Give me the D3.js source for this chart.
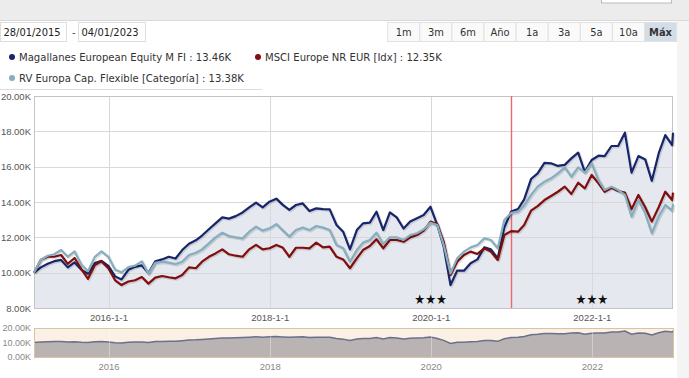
<!DOCTYPE html>
<html>
<head>
<meta charset="utf-8">
<script src="https://cdn.jsdelivr.net/npm/d3@7"></script>
<style>
  body { margin: 0; background: #fff; }
  svg { display: block; font-family: "DejaVu Sans Condensed", "DejaVu Sans", Verdana, sans-serif; }
</style>
</head>
<body>
<svg id="chart" width="689" height="378"></svg>
<script>
// month-end points, growth of 10.000 (in thousands)
var dates = [
  "2015-01-28","2015-02-28","2015-03-31","2015-04-30","2015-05-31","2015-06-30","2015-07-31","2015-08-31","2015-09-30","2015-10-31","2015-11-30","2015-12-31",
  "2016-01-31","2016-02-29","2016-03-31","2016-04-30","2016-05-31","2016-06-30","2016-07-31","2016-08-31","2016-09-30","2016-10-31","2016-11-30","2016-12-31",
  "2017-01-31","2017-02-28","2017-03-31","2017-04-30","2017-05-31","2017-06-30","2017-07-31","2017-08-31","2017-09-30","2017-10-31","2017-11-30","2017-12-31",
  "2018-01-31","2018-02-28","2018-03-31","2018-04-30","2018-05-31","2018-06-30","2018-07-31","2018-08-31","2018-09-30","2018-10-31","2018-11-30","2018-12-31",
  "2019-01-31","2019-02-28","2019-03-31","2019-04-30","2019-05-31","2019-06-30","2019-07-31","2019-08-31","2019-09-30","2019-10-31","2019-11-30","2019-12-31",
  "2020-01-31","2020-02-29","2020-03-31","2020-04-30","2020-05-31","2020-06-30","2020-07-31","2020-08-31","2020-09-30","2020-10-31","2020-11-30","2020-12-31",
  "2021-01-31","2021-02-28","2021-03-31","2021-04-30","2021-05-31","2021-06-30","2021-07-31","2021-08-31","2021-09-30","2021-10-31","2021-11-30","2021-12-31",
  "2022-01-31","2022-02-28","2022-03-31","2022-04-30","2022-05-31","2022-06-30","2022-07-31","2022-08-31","2022-09-30","2022-10-31","2022-11-30","2022-12-31",
  "2023-01-04"
];

var magallanes = [
  10.00,10.30,10.50,10.65,10.72,10.30,10.58,10.16,9.94,10.54,10.67,10.38,
  9.79,9.62,10.16,10.33,10.41,9.98,10.64,10.75,10.90,10.80,11.28,11.64,
  11.83,12.10,12.46,12.79,13.13,13.06,13.20,13.41,13.70,13.96,13.70,14.02,
  14.19,13.85,13.55,13.83,13.92,13.49,13.64,13.60,13.58,12.70,12.32,11.32,
  12.41,12.79,12.83,13.45,12.41,13.41,13.13,12.50,12.89,13.08,13.26,13.73,
  12.70,11.47,9.30,10.11,10.11,10.53,10.75,11.43,11.32,10.81,12.57,13.46,
  13.60,14.15,15.30,15.62,16.22,16.19,16.04,16.10,16.47,16.79,15.71,16.38,
  16.62,16.60,17.17,17.17,17.92,15.66,16.60,16.41,15.20,16.75,17.79,17.22,
  17.92
];

var msci = [
  10.00,10.73,10.90,10.90,11.00,10.50,10.83,10.20,9.65,10.43,10.64,10.25,
  9.57,9.30,9.50,9.57,9.75,9.38,9.72,9.81,9.74,9.68,9.87,10.30,
  10.25,10.62,10.90,11.09,11.32,11.04,10.96,10.90,11.32,11.57,11.32,11.38,
  11.57,11.43,10.90,11.41,11.41,11.38,11.70,11.43,11.47,10.90,10.75,10.25,
  10.81,11.28,11.51,11.89,11.38,11.85,11.85,11.75,12.00,12.13,12.38,12.89,
  12.75,11.75,9.87,10.62,11.00,11.19,11.06,11.38,11.19,10.72,12.13,12.35,
  12.32,12.70,13.51,13.77,14.11,14.34,14.58,14.87,14.45,15.09,14.77,15.53,
  15.06,14.58,14.81,14.62,14.53,13.59,14.40,13.70,12.89,13.70,14.58,14.11,
  14.53
];

var categoria = [
  10.00,10.73,10.96,11.04,11.28,10.90,11.20,10.45,10.08,10.90,11.20,10.90,
  10.17,10.02,10.32,10.40,10.64,9.95,10.55,10.62,10.57,10.49,10.62,11.00,
  11.13,11.32,11.66,12.00,12.26,12.07,12.00,11.94,12.32,12.60,12.38,12.51,
  12.75,12.41,12.04,12.41,12.55,12.41,12.64,12.55,12.41,11.57,11.38,10.62,
  11.28,11.70,11.85,12.26,11.62,12.00,12.00,11.85,12.13,12.23,12.45,12.83,
  12.70,11.57,9.96,10.81,11.19,11.43,11.57,11.94,11.85,11.38,12.98,13.38,
  13.45,13.80,14.40,14.87,15.15,15.34,15.62,15.96,15.43,15.96,15.66,16.19,
  15.24,14.68,14.87,14.68,14.40,13.17,14.11,13.36,12.23,13.17,13.83,13.51,
  13.89
];

var seriesNames = ["Magallanes European Equity M FI", "MSCI Europe NR EUR [Idx]", "RV Europa Cap. Flexible [Categoría]"];
var seriesColors = ["#17256b", "#820d0d", "#86aebf"];
var yTicks = [8, 10, 12, 14, 16, 18, 20];
var xTicks = ["2016-01-01", "2018-01-01", "2020-01-01", "2022-01-01"];
var navYTicks = [0, 10, 20];
var ratingDates = ["2020-01-01", "2022-01-01"];
var cursorDate = "2020-12-31";
var rangeButtons = ["1m", "3m", "6m", "Año", "1a", "3a", "5a", "10a", "Máx"];
var dateFrom = "28/01/2015", dateTo = "04/01/2023";

(function () {
    var svg = d3.select("#chart");
    var parse = d3.timeParse("%Y-%m-%d");
    var dts = dates.map(parse);
    var allSeries = [magallanes, msci, categoria];

    var plot = {left: 34, right: 673, top: 96, bottom: 308};
    var nav = {top: 328, bottom: 357};

    var x = d3.scaleTime().domain([dts[0], dts[dts.length - 1]]).range([plot.left, plot.right]);
    var y = d3.scaleLinear().domain([8, 20]).range([plot.bottom, plot.top]);
    var yn = d3.scaleLinear().domain([0, 20]).range([nav.bottom, nav.top]);

    // --- header: toolbar strip, date inputs, range buttons
    svg.append("rect").attr("x", 0).attr("y", 0).attr("width", 689).attr("height", 20).attr("fill", "#ececec");
    svg.append("line").attr("x1", 0).attr("x2", 689).attr("y1", 20.5).attr("y2", 20.5).attr("stroke", "#d8d8d8");
    svg.append("rect").attr("x", 601.5).attr("y", -1).attr("width", 70).attr("height", 4)
        .attr("fill", "#fff").attr("stroke", "#bbb");
    svg.append("rect").attr("x", 677).attr("y", 21).attr("width", 12).attr("height", 357).attr("fill", "#f4f4f4");

    var inputs = [{x: 0.5, w: 66, t: dateFrom}, {x: 78.5, w: 67, t: dateTo}];
    inputs.forEach(function (d) {
        svg.append("rect").attr("x", d.x).attr("y", 22.5).attr("width", d.w).attr("height", 19)
            .attr("fill", "#fff").attr("stroke", "#dedede");
        svg.append("text").attr("x", d.x + 3).attr("y", 36).attr("font-size", 11).attr("fill", "#222").text(d.t);
    });
    svg.append("text").attr("x", 72).attr("y", 36).attr("font-size", 11).attr("fill", "#444").text("-");

    var bw = 32.1, bx0 = 387.7;
    var btn = svg.append("g").selectAll("g").data(rangeButtons).enter().append("g")
        .attr("transform", function (d, i) { return "translate(" + (bx0 + i * bw) + ",22.5)"; });
    btn.append("rect").attr("width", bw).attr("height", 19)
        .attr("fill", function (d, i) { return i === rangeButtons.length - 1 ? "#d3dde8" : "#fafafa"; })
        .attr("stroke", "#e2e2e2");
    btn.append("text").attr("x", bw / 2).attr("y", 13.5).attr("text-anchor", "middle")
        .attr("font-size", 11).attr("fill", "#333")
        .attr("font-weight", function (d, i) { return i === rangeButtons.length - 1 ? "bold" : "normal"; })
        .text(function (d) { return d; });

    // --- legend (values read at cursor date)
    var ci = dates.indexOf(cursorDate);
    var legendPos = [{x: 12, y: 57}, {x: 258, y: 57}, {x: 12, y: 78}];
    var lg = svg.append("g").selectAll("g").data(seriesNames).enter().append("g")
        .attr("transform", function (d, i) { return "translate(" + legendPos[i].x + "," + legendPos[i].y + ")"; });
    lg.append("circle").attr("r", 3).attr("fill", function (d, i) { return seriesColors[i]; });
    lg.append("text").attr("x", 7).attr("y", 4).attr("font-size", 11.2).attr("fill", "#333")
        .text(function (d, i) { return d + " : " + allSeries[i][ci].toFixed(2) + "K"; });
    svg.append("line").attr("x1", 0).attr("x2", 262).attr("y1", 89.5).attr("y2", 89.5).attr("stroke", "#dcdcdc");

    // --- main plot
    svg.append("rect").attr("x", plot.left).attr("y", plot.top)
        .attr("width", plot.right - plot.left).attr("height", plot.bottom - plot.top).attr("fill", "#fff");

    var area = d3.area()
        .x(function (d, i) { return x(dts[i]); })
        .y0(plot.bottom)
        .y1(function (d) { return y(d); });
    svg.append("path").datum(magallanes).attr("d", area).attr("fill", "#e5e8ef");

    svg.append("g").selectAll("line").data(yTicks).enter().append("line")
        .attr("x1", plot.left).attr("x2", plot.right)
        .attr("y1", function (d) { return Math.round(y(d)) + 0.5; })
        .attr("y2", function (d) { return Math.round(y(d)) + 0.5; })
        .attr("stroke", "#d9d9d9");
    svg.append("g").selectAll("line").data(xTicks).enter().append("line")
        .attr("x1", function (d) { return Math.round(x(parse(d))) + 0.5; })
        .attr("x2", function (d) { return Math.round(x(parse(d))) + 0.5; })
        .attr("y1", plot.top).attr("y2", plot.bottom)
        .attr("stroke", "#d9d9d9");

    svg.append("rect").attr("x", plot.left + 0.5).attr("y", plot.top + 0.5)
        .attr("width", plot.right - plot.left - 1).attr("height", plot.bottom - plot.top)
        .attr("fill", "none").attr("stroke", "#c4c4c4");

    // cursor line
    svg.append("line")
        .attr("x1", Math.round(x(parse(cursorDate))) + 0.5).attr("x2", Math.round(x(parse(cursorDate))) + 0.5)
        .attr("y1", plot.top).attr("y2", plot.bottom)
        .attr("stroke", "#e86a6a").attr("stroke-width", 1.4);

    var line = d3.line()
        .x(function (d, i) { return x(dts[i]); })
        .y(function (d) { return y(d); });

    allSeries.forEach(function (s, k) {
        svg.append("path").datum(s).attr("d", line)
            .attr("transform", "translate(1,1)")
            .attr("fill", "none").attr("stroke", "#000").attr("stroke-opacity", 0.12)
            .attr("stroke-width", 3).attr("stroke-linejoin", "round");
        svg.append("path").datum(s).attr("d", line)
            .attr("fill", "none").attr("stroke", seriesColors[k])
            .attr("stroke-width", 2.2).attr("stroke-linejoin", "round");
    });

    // rating stars
    svg.append("g").selectAll("text").data(ratingDates).enter().append("text")
        .attr("x", function (d) { return x(parse(d)); })
        .attr("y", 304).attr("text-anchor", "middle").attr("font-size", 13.5).attr("fill", "#111")
        .text("★★★");

    // axes
    var yAxis = svg.append("g").attr("transform", "translate(" + plot.left + ",0)")
        .call(d3.axisLeft(y).tickValues(yTicks).tickSize(0).tickPadding(3)
            .tickFormat(function (d) { return d.toFixed(2) + "K"; }));
    yAxis.select(".domain").remove();
    yAxis.selectAll("text").attr("font-size", 9.5).attr("fill", "#555").style("font-family", null);

    var xAxis = svg.append("g").attr("transform", "translate(0," + plot.bottom + ")")
        .call(d3.axisBottom(x).tickValues(xTicks.map(parse)).tickSize(0).tickPadding(6)
            .tickFormat(d3.timeFormat("%Y-%-m-%-d")));
    xAxis.select(".domain").remove();
    xAxis.selectAll("text").attr("font-size", 9.5).attr("fill", "#555");

    // --- navigator
    svg.append("rect").attr("x", plot.left + 0.5).attr("y", nav.top + 0.5)
        .attr("width", plot.right - plot.left).attr("height", nav.bottom - nav.top)
        .attr("fill", "#faf0e3");
    var navArea = d3.area()
        .x(function (d, i) { return x(dts[i]); })
        .y0(nav.bottom)
        .y1(function (d) { return yn(d); });
    var navLine = d3.line()
        .x(function (d, i) { return x(dts[i]); })
        .y(function (d) { return yn(d); });
    svg.append("path").datum(magallanes).attr("d", navArea).attr("fill", "#b9b3b3");
    svg.append("path").datum(magallanes).attr("d", navLine).attr("fill", "none")
        .attr("stroke", "#6b6f8b").attr("stroke-width", 1.5);
    svg.append("g").selectAll("line").data(xTicks).enter().append("line")
        .attr("x1", function (d) { return Math.round(x(parse(d))) + 0.5; })
        .attr("x2", function (d) { return Math.round(x(parse(d))) + 0.5; })
        .attr("y1", nav.top).attr("y2", nav.bottom)
        .attr("stroke", "#fff").attr("stroke-opacity", 0.35);
    svg.append("rect").attr("x", plot.left + 0.5).attr("y", nav.top + 0.5)
        .attr("width", plot.right - plot.left).attr("height", nav.bottom - nav.top)
        .attr("fill", "none").attr("stroke", "#d8c4a4");

    var nyAxis = svg.append("g").attr("transform", "translate(" + plot.left + ",0)")
        .call(d3.axisLeft(yn).tickValues(navYTicks).tickSize(0).tickPadding(3)
            .tickFormat(function (d) { return d.toFixed(2) + "K"; }));
    nyAxis.select(".domain").remove();
    nyAxis.selectAll("text").attr("font-size", 9).attr("fill", "#888");

    var nxAxis = svg.append("g").attr("transform", "translate(0," + nav.bottom + ")")
        .call(d3.axisBottom(x).tickValues(xTicks.map(parse)).tickSize(0).tickPadding(6)
            .tickFormat(d3.timeFormat("%Y")));
    nxAxis.select(".domain").remove();
    nxAxis.selectAll("text").attr("font-size", 9.5).attr("fill", "#888");
})();
</script>
</body>
</html>
